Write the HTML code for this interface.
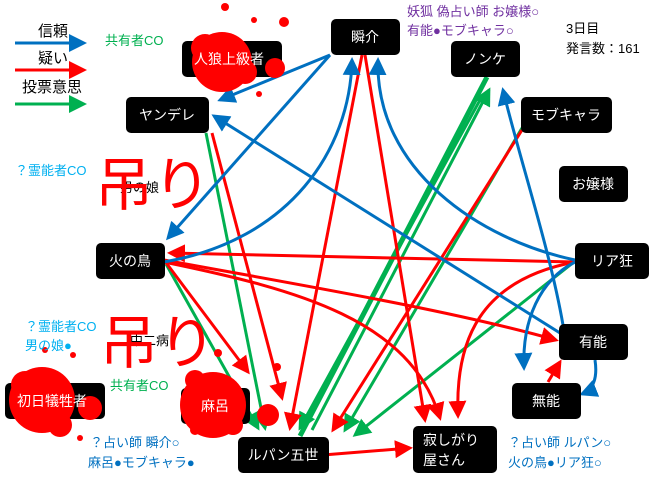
<!DOCTYPE html>
<html><head><meta charset="utf-8"><style>
body{margin:0;background:#fff;width:660px;height:477px;overflow:hidden}
svg{display:block}
text{font-family:"Liberation Sans","Noto Sans CJK JP",sans-serif}
</style></head><body>
<svg width="660" height="477" viewBox="0 0 660 477" xmlns="http://www.w3.org/2000/svg">
<defs>
<marker id="b" markerWidth="6" markerHeight="6" refX="5" refY="3" orient="auto" markerUnits="strokeWidth"><path d="M0,0 L6,3 L0,6 z" fill="#0070c0"/></marker>
<marker id="r" markerWidth="6" markerHeight="6" refX="5" refY="3" orient="auto" markerUnits="strokeWidth"><path d="M0,0 L6,3 L0,6 z" fill="#ff0000"/></marker>
<marker id="g" markerWidth="6" markerHeight="6" refX="5" refY="3" orient="auto" markerUnits="strokeWidth"><path d="M0,0 L6,3 L0,6 z" fill="#00b050"/></marker>
</defs>

<!-- legend -->
<text x="38" y="36" font-size="15" fill="#000">信頼</text>
<line x1="15" y1="43" x2="84" y2="43" stroke="#0070c0" stroke-width="3" marker-end="url(#b)"/>
<text x="38" y="63" font-size="15" fill="#000">疑い</text>
<line x1="15" y1="70" x2="84" y2="70" stroke="#ff0000" stroke-width="3" marker-end="url(#r)"/>
<text x="22" y="92" font-size="15" fill="#000">投票意思</text>
<line x1="15" y1="104" x2="84" y2="104" stroke="#00b050" stroke-width="3" marker-end="url(#g)"/>

<!-- green arrows -->
<g stroke="#00b050" stroke-width="3" fill="none">
<line x1="206" y1="133" x2="265" y2="428" marker-end="url(#g)"/>
<line x1="166" y1="264" x2="258" y2="428" marker-end="url(#g)"/>
<line x1="300" y1="436" x2="487" y2="77" stroke-width="5"/>
<line x1="312" y1="430" x2="489" y2="90" marker-end="url(#g)"/>
<line x1="480" y1="100" x2="300" y2="428" marker-end="url(#g)"/>
<line x1="522" y1="128" x2="345" y2="430" marker-end="url(#g)"/>
<line x1="574" y1="262" x2="355" y2="435" marker-end="url(#g)"/>
</g>

<!-- red arrows -->
<g stroke="#ff0000" stroke-width="3" fill="none">
<line x1="362" y1="55" x2="290" y2="428" marker-end="url(#r)"/>
<line x1="365" y1="55" x2="425" y2="420" marker-end="url(#r)"/>
<line x1="522" y1="130" x2="333" y2="430" marker-end="url(#r)"/>
<line x1="575" y1="262" x2="170" y2="253" marker-end="url(#r)"/>
<path d="M164,260 C300,285 450,310 556,340" marker-end="url(#r)"/>
<line x1="164" y1="260" x2="248" y2="372" marker-end="url(#r)"/>
<path d="M164,262 C300,290 410,320 440,418" marker-end="url(#r)"/>
<line x1="212" y1="133" x2="282" y2="398" marker-end="url(#r)"/>
<path d="M575,262 C480,280 455,340 458,416" marker-end="url(#r)"/>
<line x1="548" y1="382" x2="560" y2="362" marker-end="url(#r)"/>
<line x1="323" y1="455" x2="410" y2="448" marker-end="url(#r)"/>
</g>

<!-- blue arrows -->
<g stroke="#0070c0" stroke-width="3" fill="none">
<line x1="330" y1="55" x2="220" y2="100" marker-end="url(#b)"/>
<line x1="330" y1="55" x2="168" y2="238" marker-end="url(#b)"/>
<line x1="560" y1="333" x2="214" y2="116" marker-end="url(#b)"/>
<path d="M164,262 C290,240 350,150 352,60" marker-end="url(#b)"/>
<path d="M575,260 C480,240 375,170 378,60" marker-end="url(#b)"/>
<path d="M563,325 C550,250 520,160 503,90" marker-end="url(#b)"/>
<path d="M575,262 C540,280 522,320 524,368" marker-end="url(#b)"/>
<path d="M595,360 C598,380 592,390 582,394" marker-end="url(#b)"/>
</g>

<!-- nodes -->
<g fill="#000">
<rect x="182" y="41" width="100" height="36" rx="5"/>
<rect x="126" y="97" width="83" height="36" rx="5"/>
<rect x="331" y="19" width="69" height="36" rx="5"/>
<rect x="451" y="41" width="69" height="36" rx="5"/>
<rect x="521" y="97" width="91" height="36" rx="5"/>
<rect x="559" y="166" width="69" height="36" rx="5"/>
<rect x="575" y="243" width="74" height="36" rx="5"/>
<rect x="559" y="324" width="69" height="36" rx="5"/>
<rect x="512" y="383" width="69" height="36" rx="5"/>
<rect x="413" y="426" width="84" height="47" rx="5"/>
<rect x="238" y="437" width="91" height="36" rx="5"/>
<rect x="181" y="388" width="69" height="36" rx="5"/>
<rect x="5" y="383" width="100" height="36" rx="5"/>
<rect x="96" y="243" width="69" height="36" rx="5"/>
</g>

<!-- blood -->
<g fill="#ff0000">
<circle cx="222" cy="62" r="30"/><circle cx="205" cy="48" r="14"/><circle cx="245" cy="72" r="12"/>
<circle cx="275" cy="68" r="10"/><circle cx="225" cy="7" r="4"/><circle cx="284" cy="22" r="5"/><circle cx="254" cy="20" r="3"/><circle cx="259" cy="94" r="3"/>
<circle cx="42" cy="400" r="33"/><circle cx="90" cy="408" r="12"/><circle cx="25" cy="385" r="14"/><circle cx="60" cy="425" r="12"/><circle cx="45" cy="350" r="3"/><circle cx="73" cy="355" r="3"/><circle cx="80" cy="438" r="3"/>
<circle cx="213" cy="405" r="33"/><circle cx="195" cy="380" r="10"/><circle cx="233" cy="425" r="10"/><circle cx="268" cy="415" r="11"/><circle cx="218" cy="353" r="4"/><circle cx="277" cy="367" r="4"/><circle cx="195" cy="430" r="5"/>
</g>

<!-- node labels -->
<g fill="#fff" font-size="14" text-anchor="middle">
<text x="229" y="64">人狼上級者</text>
<text x="167" y="120">ヤンデレ</text>
<text x="365" y="42">瞬介</text>
<text x="485" y="64">ノンケ</text>
<text x="566" y="120">モブキャラ</text>
<text x="593" y="189">お嬢様</text>
<text x="612" y="266">リア狂</text>
<text x="593" y="347">有能</text>
<text x="546" y="406">無能</text>
<text x="283" y="460">ルパン五世</text>
<text x="215" y="411">麻呂</text>
<text x="52" y="406">初日犠牲者</text>
<text x="130" y="266">火の鳥</text>
<text x="423" y="445" text-anchor="start">寂しがり</text>
<text x="423" y="465" text-anchor="start">屋さん</text>
</g>

<!-- annotations -->
<text x="105" y="45" font-size="13" fill="#00b050">共有者CO</text>
<text x="15" y="175" font-size="13" fill="#00b0f0">？霊能者CO</text>
<text x="120" y="192" font-size="13" fill="#000">男の娘</text>
<text x="95" y="205" font-size="58" fill="#ff0000">吊り</text>
<text x="25" y="331" font-size="13" fill="#00b0f0">？霊能者CO</text>
<text x="25" y="350" font-size="13" fill="#00b0f0">男の娘●</text>
<text x="130" y="345" font-size="13" fill="#000">中二病</text>
<text x="100" y="363" font-size="58" fill="#ff0000">吊り</text>
<text x="110" y="390" font-size="13" fill="#00b050">共有者CO</text>
<text x="90" y="447" font-size="13" fill="#0070c0">？占い師 瞬介○</text>
<text x="88" y="467" font-size="13" fill="#0070c0">麻呂●モブキャラ●</text>
<text x="508" y="447" font-size="13" fill="#0070c0">？占い師 ルパン○</text>
<text x="508" y="467" font-size="13" fill="#0070c0">火の鳥●リア狂○</text>
<text x="407" y="16" font-size="13" fill="#7030a0">妖狐 偽占い師 お嬢様○</text>
<text x="407" y="35" font-size="13" fill="#7030a0">有能●モブキャラ○</text>
<text x="566" y="33" font-size="13" fill="#000">3日目</text>
<text x="566" y="53" font-size="13" fill="#000">発言数：161</text>
</svg>
</body></html>
